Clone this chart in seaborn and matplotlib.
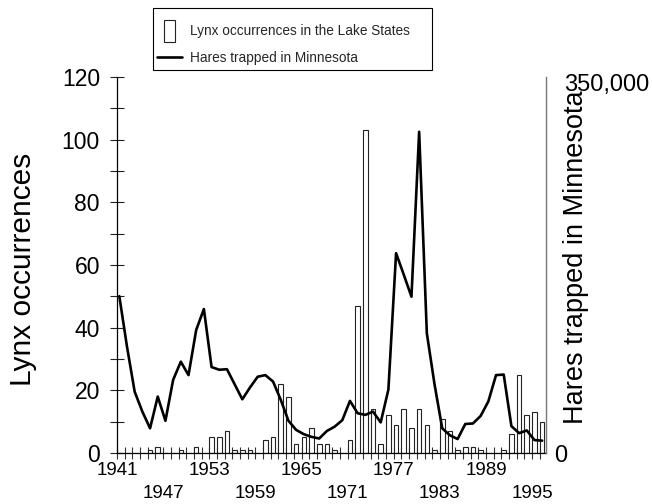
import matplotlib
matplotlib.use("Agg")
import matplotlib.pyplot as plt
import matplotlib.transforms as mtransforms
from matplotlib.patches import Rectangle, Patch
from matplotlib.lines import Line2D
from matplotlib.legend_handler import HandlerPatch
from matplotlib.ticker import MultipleLocator
import pandas as pd
import seaborn as sns

years = list(range(1941, 1997))
lynx = [0, 0, 0, 0, 1, 2, 0, 0, 1, 0,
        2, 0, 5, 5, 7, 1, 1, 1, 0, 4,
        5, 22, 18, 3, 5, 8, 3, 3, 1, 0,
        4, 47, 103, 14, 3, 12, 9, 14, 8, 14,
        9, 1, 11, 7, 1, 2, 2, 1, 0, 0,
        1, 6, 25, 12, 13, 10]
hares = [146000, 99000, 57000, 38500, 23000, 52500, 30000, 68000, 85000, 72500,
         114500, 134000, 80000, 77500, 78000, 64000, 50000, 61000, 71000, 72500,
         66500, 49500, 30000, 21500, 17500, 15000, 13500, 20500, 24500, 30500,
         48500, 37000, 35500, 38500, 28500, 59000, 186000, 166000, 145500, 299000,
         111500, 64000, 23000, 16500, 13000, 27000, 27500, 34500, 48000, 72500,
         73000, 25000, 18500, 21000, 12000, 11500]
labelled_years = [1941, 1947, 1953, 1959, 1965, 1971, 1977, 1983, 1989, 1995]
lynx_label = "Lynx occurrences in the Lake States"
hares_label = "Hares trapped in Minnesota"

sns.set_theme(style="ticks")
plt.rcParams["font.family"] = ["Liberation Sans", "DejaVu Sans"]

W, H = 652, 504
df = pd.DataFrame({"year": years, "lynx": lynx, "hares": hares})
# each year's bar and line vertex sit just right of its tick
df["pos"] = df["year"] + 0.3

fig = plt.figure(figsize=(W / 100, H / 100), dpi=100)
ax = fig.add_axes([117 / W, 51 / H, 429 / W, 376 / H])

sns.barplot(data=df, x="pos", y="lynx", native_scale=True, width=0.6,
            color="white", saturation=1, edgecolor="#222222", linewidth=0.8,
            errorbar=None, ax=ax)

ax2 = ax.twinx()
sns.lineplot(data=df, x="pos", y="hares", color="black", linewidth=1.9, ax=ax2)

ax.set_xlim(1941, 1996.8)
ax.set_ylim(0, 120)
ax2.set_ylim(0, 350000)

# x axis: a crossing tick every year, labels every sixth year on two rows
ax.set_xticks(years)
xt = []
for y in years:
    if y in labelled_years:
        k = labelled_years.index(y)
        xt.append(str(y) if k % 2 == 0 else "\n" + str(y))
    else:
        xt.append("")
ax.set_xticklabels(xt, fontsize=13.5, linespacing=1.45)
ax.tick_params(axis="x", direction="inout", length=8.5, width=0.8,
               color="#333333", pad=2, labelcolor="black")

ax.yaxis.set_major_locator(MultipleLocator(20))
ax.yaxis.set_minor_locator(MultipleLocator(10))
ax.tick_params(axis="y", which="both", direction="inout", length=9.5,
               width=0.8, color="#222222", labelsize=16.5, pad=7.5, labelcolor="black")
ax.tick_params(axis="y", which="minor", left=True)

ax.set_xlabel("")
ax.set_ylabel("Lynx occurrences", fontsize=21.5, color="black")
ax.yaxis.set_label_coords(-0.186, 0.489)

for s in ["top", "right"]:
    ax.spines[s].set_visible(False)
ax.spines["left"].set_color("black")
ax.spines["bottom"].set_color("black")
ax.spines["left"].set_linewidth(0.9)
ax.spines["bottom"].set_linewidth(0.9)

for s in ["top", "left", "bottom"]:
    ax2.spines[s].set_visible(False)
ax2.spines["right"].set_color("#777777")
ax2.spines["right"].set_linewidth(1.0)
ax2.set_yticks([0, 350000])
ax2.set_yticklabels(["0", "350,000"])
ax2.tick_params(axis="y", length=0, labelsize=17, pad=6, labelcolor="black")
ax2.set_xlabel("")
ax2.set_ylabel("Hares trapped in Minnesota", fontsize=19.5, color="black")
ax2.yaxis.set_label_coords(1.04, 0.521)
top_lab = ax2.get_yticklabels()[1]
top_lab.set_transform(top_lab.get_transform() +
                      mtransforms.ScaledTranslation(10 / 100, -5 / 100, fig.dpi_scale_trans))


def tall_box(legend, orig_handle, xdescent, ydescent, width, height, fontsize):
    w, h = 8.5, 16.0
    return Rectangle((-xdescent + width / 2 - w / 2, -ydescent + height / 2 - h / 2), w, h)


# legend frame drawn on its own, entries placed inside it
frame = Rectangle((153 / W, 1 - 70 / H), 279 / W, 62 / H, transform=fig.transFigure,
                  facecolor="white", edgecolor="black", linewidth=0.8, zorder=5)
fig.patches.append(frame)

handles = [Patch(facecolor="white", edgecolor="#222222", linewidth=0.8),
           Line2D([], [], color="black", linewidth=1.9)]
leg = fig.legend(handles, [lynx_label, hares_label],
                 loc="upper left", bbox_to_anchor=(157 / W, 1 - 24.5 / H),
                 fontsize=9.8, frameon=False, borderpad=0, borderaxespad=0,
                 handlelength=1.85, handleheight=1.0, handletextpad=0.6,
                 labelspacing=0.95,
                 handler_map={Patch: HandlerPatch(patch_func=tall_box)})
leg.set_zorder(6)

fig.savefig("out.png", dpi=100)
